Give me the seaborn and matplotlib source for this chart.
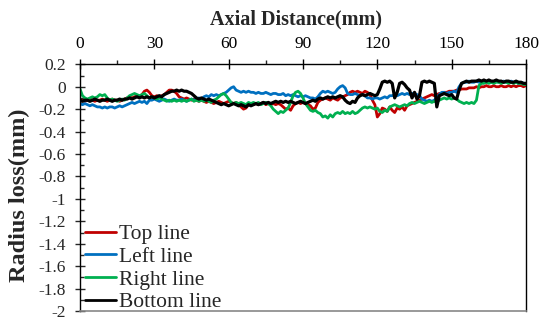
import numpy as np
import pandas as pd
import matplotlib
matplotlib.use("Agg")
import matplotlib.pyplot as plt
from matplotlib.ticker import MultipleLocator
import seaborn as sns

sns.set_style("ticks")
plt.rcParams['font.family'] = ['Liberation Serif', 'DejaVu Serif']

# Axial distance (mm), 1 mm step
distance = np.arange(0, 181, 1)

top_line = [
    -0.13, -0.12, -0.13, -0.12, -0.11, -0.12, -0.13, -0.12, -0.12, -0.11,
    -0.12, -0.13, -0.12, -0.11, -0.12, -0.12, -0.13, -0.12, -0.11, -0.10,
    -0.09, -0.10, -0.09, -0.08, -0.09, -0.07, -0.04, -0.03, -0.05, -0.08,
    -0.09, -0.08, -0.09, -0.08, -0.07, -0.05, -0.03, -0.03, -0.04, -0.06,
    -0.09, -0.10, -0.11, -0.10, -0.11, -0.12, -0.11, -0.12, -0.13, -0.12,
    -0.13, -0.14, -0.13, -0.14, -0.15, -0.14, -0.13, -0.14, -0.15, -0.14,
    -0.13, -0.14, -0.15, -0.14, -0.16, -0.18, -0.20, -0.19, -0.16, -0.15,
    -0.16, -0.15, -0.16, -0.15, -0.14, -0.16, -0.15, -0.16, -0.15, -0.16,
    -0.15, -0.16, -0.18, -0.20, -0.19, -0.21, -0.17, -0.15, -0.14, -0.15,
    -0.14, -0.15, -0.16, -0.17, -0.20, -0.19, -0.14, -0.12, -0.11, -0.10,
    -0.11, -0.12, -0.10, -0.11, -0.12, -0.10, -0.09, -0.08, -0.07, -0.05,
    -0.04, -0.05, -0.04, -0.05, -0.06, -0.04, -0.05, -0.07, -0.12, -0.16,
    -0.27, -0.24, -0.19, -0.20, -0.22, -0.18, -0.21, -0.23, -0.19, -0.20,
    -0.18, -0.21, -0.17, -0.16, -0.15, -0.14, -0.13, -0.12, -0.11, -0.10,
    -0.09, -0.08, -0.07, -0.08, -0.07, -0.06, -0.06, -0.05, -0.05, -0.04,
    -0.04, -0.04, -0.03, -0.03, -0.02, -0.02, -0.02, -0.01, -0.01, -0.01,
    0.00, -0.01, 0.00, 0.00, 0.01, 0.00, 0.00, 0.01, 0.00, 0.00,
    0.01, 0.00, 0.00, 0.01, 0.00, 0.01, 0.00, 0.01, 0.01, 0.00, 0.01,
]

left_line = [
    -0.15, -0.16, -0.15, -0.16, -0.17, -0.16, -0.17, -0.18, -0.18, -0.19,
    -0.18, -0.19, -0.18, -0.18, -0.19, -0.18, -0.17, -0.18, -0.17, -0.16,
    -0.15, -0.14, -0.15, -0.14, -0.13, -0.14, -0.13, -0.15, -0.12, -0.12,
    -0.11, -0.12, -0.13, -0.12, -0.11, -0.12, -0.13, -0.12, -0.11, -0.12,
    -0.12, -0.11, -0.12, -0.13, -0.12, -0.11, -0.12, -0.11, -0.10, -0.11,
    -0.09, -0.08, -0.09, -0.07, -0.08, -0.07, -0.08, -0.07, -0.06, -0.05,
    -0.03, -0.01, 0.00, -0.03, -0.04, -0.05, -0.04, -0.05, -0.04, -0.05,
    -0.05, -0.06, -0.05, -0.06, -0.06, -0.05, -0.06, -0.07, -0.06, -0.06,
    -0.07, -0.07, -0.06, -0.08, -0.07, -0.08, -0.07, -0.08, -0.09, -0.08,
    -0.09, -0.08, -0.09, -0.10, -0.10, -0.11, -0.09, -0.06, -0.04, -0.05,
    -0.04, -0.05, -0.06, -0.05, -0.02, 0.00, 0.01, -0.01, -0.06, -0.07,
    -0.07, -0.06, -0.07, -0.08, -0.07, -0.08, -0.10, -0.10, -0.11, -0.10,
    -0.10, -0.11, -0.10, -0.09, -0.10, -0.08, -0.08, -0.07, -0.08, -0.07,
    -0.06, -0.07, -0.06, -0.07, -0.06, -0.06, -0.07, -0.08, -0.11, -0.12,
    -0.13, -0.12, -0.13, -0.12, -0.10, -0.07, -0.05, -0.05, -0.06, -0.05,
    -0.05, -0.04, -0.05, 0.00, 0.03, 0.04, 0.04, 0.05, 0.04, 0.04,
    0.05, 0.04, 0.05, 0.04, 0.04, 0.05, 0.04, 0.04, 0.05, 0.04,
    0.04, 0.05, 0.04, 0.04, 0.05, 0.04, 0.04, 0.03, 0.04, 0.03, 0.03,
]

right_line = [
    -0.02, -0.08, -0.10, -0.11, -0.10, -0.09, -0.10, -0.09, -0.07, -0.08,
    -0.07, -0.10, -0.12, -0.11, -0.12, -0.13, -0.12, -0.11, -0.12, -0.10,
    -0.08, -0.07, -0.06, -0.07, -0.08, -0.07, -0.06, -0.08, -0.10, -0.09,
    -0.10, -0.11, -0.10, -0.11, -0.12, -0.13, -0.12, -0.13, -0.12, -0.13,
    -0.12, -0.13, -0.12, -0.13, -0.12, -0.11, -0.13, -0.12, -0.13, -0.12,
    -0.13, -0.12, -0.13, -0.14, -0.12, -0.11, -0.09, -0.07, -0.06, -0.08,
    -0.11, -0.14, -0.15, -0.14, -0.15, -0.14, -0.15, -0.16, -0.14, -0.15,
    -0.14, -0.15, -0.14, -0.16, -0.15, -0.14, -0.15, -0.17, -0.20, -0.22,
    -0.24, -0.22, -0.23, -0.21, -0.19, -0.14, -0.08, -0.05, -0.04, -0.06,
    -0.10, -0.15, -0.18, -0.21, -0.22, -0.21, -0.23, -0.24, -0.27, -0.26,
    -0.28, -0.25, -0.27, -0.24, -0.23, -0.24, -0.22, -0.24, -0.23, -0.24,
    -0.22, -0.24, -0.23, -0.21, -0.19, -0.18, -0.19, -0.18, -0.19, -0.20,
    -0.19, -0.22, -0.23, -0.21, -0.22, -0.18, -0.17, -0.16, -0.17, -0.18,
    -0.17, -0.16, -0.17, -0.15, -0.14, -0.15, -0.14, -0.13, -0.14, -0.15,
    -0.14, -0.13, -0.14, -0.13, -0.14, -0.12, -0.11, -0.10, -0.11, -0.10,
    -0.11, -0.10, -0.11, -0.13, -0.14, -0.15, -0.14, -0.15, -0.14, -0.15,
    -0.12, 0.01, 0.03, 0.03, 0.04, 0.03, 0.04, 0.03, 0.04, 0.04,
    0.03, 0.04, 0.04, 0.03, 0.04, 0.03, 0.04, 0.03, 0.03, 0.02, 0.02,
]

bottom_line = [
    -0.12, -0.13, -0.12, -0.12, -0.13, -0.12, -0.11, -0.12, -0.13, -0.12,
    -0.12, -0.11, -0.12, -0.13, -0.12, -0.12, -0.11, -0.12, -0.11, -0.11,
    -0.10, -0.11, -0.10, -0.09, -0.10, -0.09, -0.10, -0.09, -0.10, -0.09,
    -0.10, -0.09, -0.08, -0.09, -0.07, -0.06, -0.05, -0.04, -0.04, -0.03,
    -0.04, -0.03, -0.04, -0.04, -0.05, -0.06, -0.08, -0.10, -0.11, -0.10,
    -0.11, -0.12, -0.11, -0.12, -0.13, -0.14, -0.15, -0.16, -0.15, -0.16,
    -0.17, -0.16, -0.15, -0.16, -0.17, -0.16, -0.17, -0.18, -0.16, -0.17,
    -0.16, -0.15, -0.16, -0.15, -0.14, -0.15, -0.14, -0.15, -0.14, -0.13,
    -0.14, -0.13, -0.14, -0.13, -0.14, -0.13, -0.14, -0.15, -0.14, -0.13,
    -0.14, -0.15, -0.14, -0.13, -0.12, -0.13, -0.11, -0.10, -0.11, -0.10,
    -0.09, -0.10, -0.09, -0.10, -0.09, -0.08, -0.09, -0.12, -0.14, -0.15,
    -0.13, -0.14, -0.10, -0.08, -0.07, -0.08, -0.07, -0.06, -0.07, -0.08,
    -0.07, -0.02, 0.04, 0.05, 0.04, 0.05, 0.03, -0.10, -0.05, 0.03,
    0.04, 0.02, -0.01, -0.03, -0.10, -0.05, -0.11, -0.08, 0.04, 0.05,
    0.04, 0.05, 0.04, 0.03, -0.18, -0.08, -0.07, -0.06, -0.07, -0.08,
    -0.07, -0.10, -0.11, -0.03, 0.03, 0.04, 0.05, 0.04, 0.05, 0.05,
    0.05, 0.06, 0.05, 0.06, 0.05, 0.06, 0.05, 0.05, 0.06, 0.05,
    0.05, 0.04, 0.05, 0.05, 0.04, 0.04, 0.05, 0.04, 0.04, 0.03, 0.03,
]

series_names = ["Top line", "Left line", "Right line", "Bottom line"]
series_values = [top_line, left_line, right_line, bottom_line]
series_colors = ["#C00000", "#0070C0", "#00B050", "#000000"]
series_widths = [2.0, 2.0, 2.0, 2.3]

x_ticks = [0, 30, 60, 90, 120, 150, 180]
y_ticks = [0.2, 0, -0.2, -0.4, -0.6, -0.8, -1, -1.2, -1.4, -1.6, -1.8, -2]
y_tick_labels = ["0.2", "0", "-0.2", "-0.4", "-0.6", "-0.8", "-1", "-1.2",
                 "-1.4", "-1.6", "-1.8", "-2"]

W, H = 547, 324
fig = plt.figure(figsize=(W / 100, H / 100), dpi=100)
ax = fig.add_axes([80 / W, 1 - 311 / H, 446 / W, (311 - 64.3) / H])

for name, vals, col, lw in zip(series_names, series_values, series_colors, series_widths):
    df = pd.DataFrame({"x": distance, "y": vals})
    sns.lineplot(data=df, x="x", y="y", color=col, linewidth=lw, label=name,
                 ax=ax, estimator=None, sort=False)

ax.set_xlim(0, 180)
ax.set_ylim(-2, 0.2)
ax.set_xlabel("")
ax.set_ylabel("")

ax.xaxis.tick_top()
ax.set_xticks(x_ticks)
ax.set_xticklabels([str(t) for t in x_ticks])
ax.xaxis.set_minor_locator(MultipleLocator(15))
ax.set_yticks(y_ticks)
ax.set_yticklabels(y_tick_labels)
ax.yaxis.set_minor_locator(MultipleLocator(0.1))

ax.tick_params(axis="x", which="major", direction="inout", length=7, width=1,
               top=True, bottom=False, labeltop=True, labelbottom=False,
               labelsize=12.5, pad=5, colors="black")
ax.tick_params(axis="x", which="minor", direction="out", length=3, width=1,
               top=True, bottom=False)
ax.tick_params(axis="y", which="major", direction="inout", length=7, width=1,
               labelsize=12.5, pad=6.5)
ax.tick_params(axis="y", which="minor", direction="in", length=3, width=1)

for s in ["left", "top", "right"]:
    ax.spines[s].set_color("black")
    ax.spines[s].set_linewidth(1)
ax.spines["bottom"].set_color("#888888")
ax.spines["bottom"].set_linewidth(1.2)

fig.text(296 / W, 1 - 19 / H, "Axial Distance(mm)", ha="center", va="center",
         fontsize=14.5, fontweight="bold")
fig.text(19 / W, 1 - 195 / H, "Radius loss(mm)", ha="center", va="center",
         rotation=90, fontsize=17.5, fontweight="bold")

leg = ax.legend(loc="lower left", bbox_to_anchor=(0.011, -0.005), frameon=False,
                handlelength=1.45, handletextpad=0.15, labelspacing=0.12,
                borderaxespad=0, borderpad=0, fontsize=15.5)
for line in leg.get_lines():
    line.set_linewidth(2)

fig.savefig("out.png", dpi=100)
